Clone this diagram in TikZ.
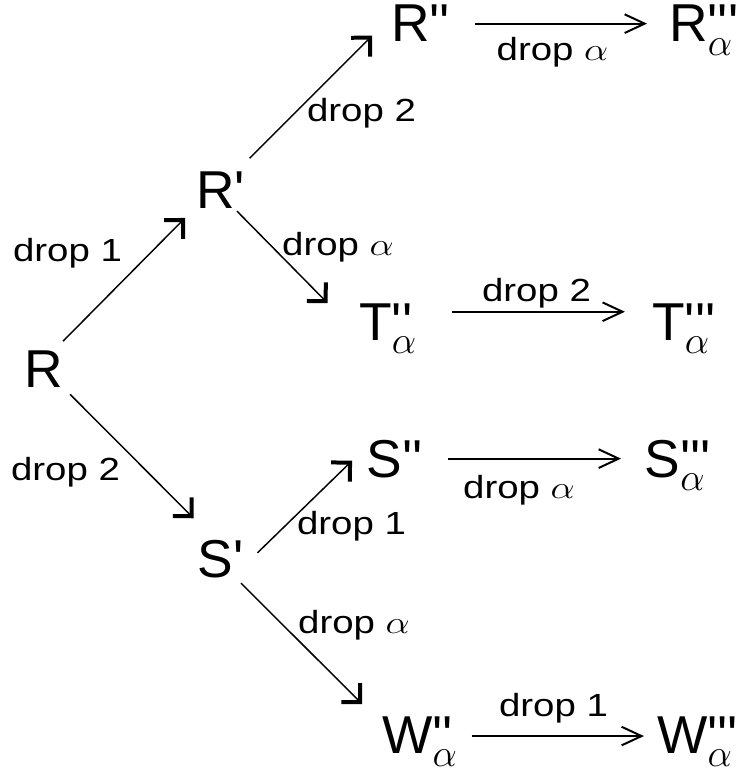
\RequirePackage{fix-cm}
\documentclass[tikz,border=0pt]{standalone}
\usepackage{fontspec}
\usepackage{graphicx}
\setmainfont{Liberation Sans}[Ligatures=TeXOff]
\usetikzlibrary{arrows.meta}

% letter with primes on top and a lowered alpha below them
\newcommand{\withsub}[2]{#1\rlap{#2}\raisebox{-10pt}{\fontsize{29}{29}\selectfont$\alpha$}}
% arrow label, a little wider than the plain font
\newcommand{\droplbl}[1]{\scalebox{1.2}[1]{drop #1}}

\begin{document}
\begin{tikzpicture}[
    x=0.75pt, y=-0.75pt,
    state/.style={inner sep=0pt, anchor=base west, font=\fontsize{40}{48}\selectfont},
    lbl/.style={inner sep=0pt, font=\fontsize{24}{28}\selectfont},
    diag/.style={line width=1.1pt, line join=miter, -{Straight Barb[length=10pt, width=20pt, line width=3pt]}},
    flat/.style={line width=1.5pt, -{Straight Barb[length=15pt, width=14pt]}}
]
\useasboundingbox (0,0) rectangle (749,774);

% States
\node[state] (R) at (24,387) {R};
\node[state] (Rp) at (196,208) {R'};
\node[state] (Rpp) at (391,42) {R''};
\node[state] (Rppp) at (669,42) {\withsub{R}{'''}};
\node[state] (Tpp) at (359,340) {\withsub{T}{''}};
\node[state] (Tppp) at (652,340) {\withsub{T}{'''}};
\node[state] (Sp) at (197.5,577) {S'};
\node[state] (Spp) at (366.5,477) {S''};
\node[state] (Sppp) at (644.5,477) {\withsub{S}{'''}};
\node[state] (Wpp) at (382,753) {\withsub{W}{''}};
\node[state] (Wppp) at (657,753) {\withsub{W}{'''}};

% Diagonal steps
\draw[diag, shorten <=9.3pt, shorten >=11.7pt] (R.60) -- (Rp.-145);
\draw[diag, shorten <=7.4pt, shorten >=22.5pt] (R.south east) -- (Sp.107);
\draw[diag, shorten <=13.6pt, shorten >=20.1pt] (Rp.49) -- (Rpp.167);
\draw[diag, shorten <=3pt, shorten >=33.5pt] (Rp.-54) -- (Tpp.-167);
\draw[diag, shorten <=14.3pt, shorten >=15.1pt] (Sp.-18) -- (Spp.157);
\draw[diag, shorten <=5.7pt, shorten >=21pt] (Sp.-52) -- (Wpp.155);

% Horizontal steps
\draw[flat, shorten <=18.8pt, shorten >=16.5pt] (Rpp.east) -- (Rpp.east -| Rppp.west);
\draw[flat, shorten <=27pt, shorten >=20.3pt] (Tpp.30) -- (Tpp.30 -| Tppp.west);
\draw[flat, shorten <=18.4pt, shorten >=17.6pt] (Spp.east) -- (Spp.east -| Sppp.west);
\draw[flat, shorten <=10.8pt, shorten >=9.8pt] (Wpp.8) -- (Wpp.8 -| Wppp.west);

% Labels
\node[lbl] (l1) at (67.5,253) {\droplbl{1}};
\node[lbl] (l2) at (65.5,472) {\droplbl{2}};
\node[lbl] (l3) at (361.5,113) {\droplbl{2}};
\node[lbl] (l4) at (338,247) {\droplbl{$\alpha$}};
\node[lbl] (l5) at (552.5,52.5) {\droplbl{$\alpha$}};
\node[lbl] (l6) at (536.5,293.5) {\droplbl{2}};
\node[lbl] (l7) at (519,490) {\droplbl{$\alpha$}};
\node[lbl] (l8) at (351.5,526.5) {\droplbl{1}};
\node[lbl] (l9) at (354,625.5) {\droplbl{$\alpha$}};
\node[lbl] (l10) at (553.5,708) {\droplbl{1}};

\end{tikzpicture}
\end{document}
